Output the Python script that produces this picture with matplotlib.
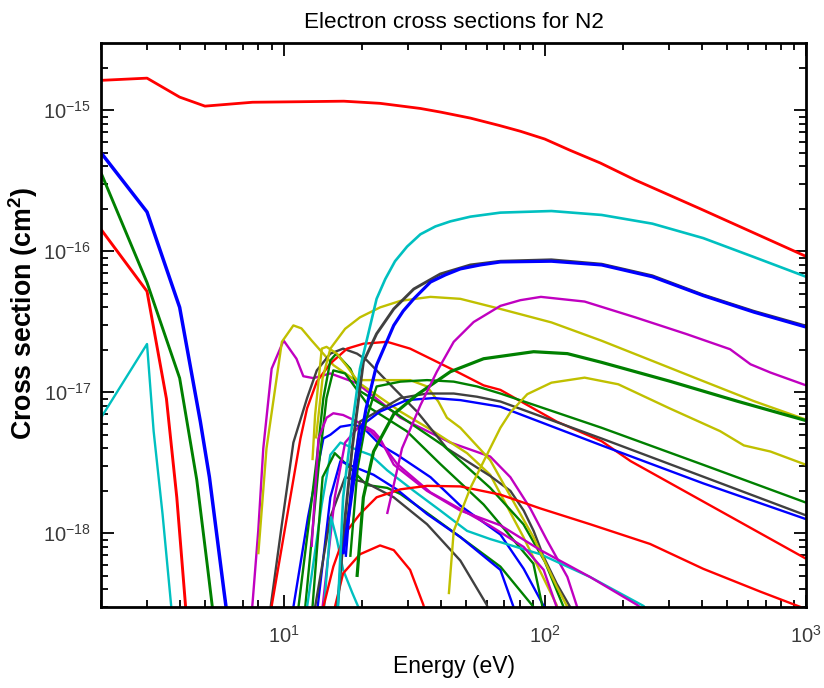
import matplotlib
matplotlib.use("Agg")
import matplotlib.pyplot as plt
from matplotlib.ticker import FixedLocator, NullFormatter

plt.rcParams['font.family'] = ['Liberation Sans', 'DejaVu Sans']
plt.rcParams['mathtext.fontset'] = 'custom'
plt.rcParams['mathtext.rm'] = 'Liberation Sans'
plt.rcParams['mathtext.bf'] = 'Liberation Sans:bold'

RED, BLUE, GREEN = '#ff0000', '#0000ff', '#008000'
CYAN, MAGENTA, YELLOW, GRAY = '#00c0c0', '#c000c0', '#c0c000', '#404040'

# Energies in eV, cross sections in cm^2
elastic_e = [2, 3, 4, 5, 7.6, 11.6, 17, 23.4, 33.4, 40, 51.9, 67, 80.6, 100, 125, 163,
             222, 394, 1000]
elastic_s = [1.63e-15, 1.69e-15, 1.24e-15, 1.07e-15, 1.14e-15, 1.15e-15, 1.16e-15,
             1.12e-15, 1.03e-15, 9.7e-16, 8.8e-16, 7.8e-16, 7.1e-16, 6.25e-16, 5.2e-16,
             4.23e-16, 3.2e-16, 2.0e-16, 9.2e-17]

vib1_e = [2, 3, 4, 4.8, 5.2, 5.9, 6.1]
vib1_s = [5e-16, 1.9e-16, 4e-17, 6.2e-18, 2.5e-18, 4e-19, 2.5e-19]
vib2_e = [2, 3, 4, 4.65, 5.1, 5.4]
vib2_s = [3.6e-16, 6e-17, 1.26e-17, 2.4e-18, 6e-19, 2.5e-19]
vib3_e = [2, 3, 3.56, 3.9, 4.25]
vib3_s = [1.43e-16, 5.2e-17, 9e-18, 1.8e-18, 2.5e-19]
vib4_e = [2, 3, 3.18, 3.44, 3.75]
vib4_s = [6.6e-18, 2.2e-17, 5.3e-18, 1.37e-18, 2.5e-19]

exc_m1_e = [7.55, 8.0, 8.36, 9.0, 10.0, 11.2, 11.9, 13.0, 15.1, 16.9, 19.1, 28, 43.5,
            61.8, 73.8, 88, 102, 122, 133, 136]
exc_m1_s = [2.7e-19, 1.05e-18, 4e-18, 1.47e-17, 2.33e-17, 1.73e-17, 1.3e-17, 1.26e-17,
            1.36e-17, 1.26e-17, 1.16e-17, 6.6e-18, 4.4e-18, 3.5e-18, 2.5e-18, 1.5e-18,
            8.9e-19, 4.9e-19, 3.0e-19, 2.6e-19]

exc_y1_e = [8.0, 8.6, 9.85, 10.9, 11.7, 12.8, 13.8, 15.5, 28, 37.4, 50.4, 61.8, 82.8, 111, 114]
exc_y1_s = [7.1e-19, 4e-18, 2.28e-17, 2.98e-17, 2.84e-17, 2.33e-17, 1.99e-17, 1.56e-17,
            7.3e-18, 5.3e-18, 3.7e-18, 2.6e-18, 9.4e-19, 3.1e-19, 2.6e-19]

exc_y2_e = [12.9, 13.2, 14.0, 14.6, 16.0, 17.5, 19.1, 30.5, 35.4, 39.1, 42.2, 47.5, 61.8,
            90.4, 111, 122, 125]
exc_y2_s = [3.3e-18, 6.9e-18, 2.04e-17, 2.1e-17, 1.88e-17, 1.52e-17, 1.22e-17, 1.22e-17,
            1.1e-17, 8.6e-18, 6.6e-18, 5.6e-18, 3.3e-18, 9.4e-19, 4.2e-19, 3e-19, 2.6e-19]

exc_g1_e = [8.85, 9.85, 10.9, 12.3, 13.4, 15.1, 16.9, 19.1, 20.8, 26.4, 32.4, 42.2, 61.8,
            73.8, 83, 90.6, 99, 111, 125, 128]
exc_g1_s = [2.7e-19, 1.16e-18, 4.4e-18, 9.1e-18, 1.43e-17, 1.88e-17, 2.04e-17, 1.88e-17,
            1.69e-17, 1.07e-17, 7.3e-18, 4e-18, 2.55e-18, 2e-18, 1.45e-18, 1.04e-18,
            6.8e-19, 4.4e-19, 3e-19, 2.6e-19]

exc_r2_e = [8.9, 11.6, 12.3, 13.4, 15.1, 17.5, 20.2, 24.9, 30.5, 37.5, 47.5, 58.3, 67.6,
            111, 165, 213, 404, 1000]
exc_r2_s = [2.7e-19, 4.7e-18, 7.7e-18, 1.19e-17, 1.6e-17, 2.04e-17, 2.21e-17, 2.28e-17,
            2.04e-17, 1.69e-17, 1.36e-17, 1.12e-17, 1.04e-17, 6.2e-18, 4.5e-18, 3.25e-18,
            1.68e-18, 6.6e-19]

ion_total_e = [16.1, 16.9, 18.0, 19.6, 22.7, 24.5, 26.7, 29.7, 33.4, 38.1, 43.5, 51.9,
               67.6, 106, 165, 258, 404, 632, 1000]
ion_total_s = [2.7e-19, 1.8e-18, 4.7e-18, 1.47e-17, 4.6e-17, 6.35e-17, 8.5e-17, 1.08e-16,
               1.32e-16, 1.5e-16, 1.63e-16, 1.76e-16, 1.88e-16, 1.93e-16, 1.81e-16,
               1.57e-16, 1.24e-16, 9.1e-17, 6.6e-17]

ion_b_e = [16.9, 19.1, 20.7, 22.7, 26.4, 28.7, 31.5, 36.5, 41.6, 47.5, 56.6, 67.6, 106,
           165, 258, 404, 632, 1000]
ion_b_s = [7.1e-19, 3.4e-18, 7.7e-18, 1.56e-17, 2.98e-17, 3.77e-17, 4.6e-17, 6.05e-17,
           6.8e-17, 7.5e-17, 8e-17, 8.4e-17, 8.5e-17, 8e-17, 6.6e-17, 4.85e-17, 3.7e-17,
           2.9e-17]

ion_k_e = [16.0, 17.2, 18.3, 20.2, 22.7, 26.4, 31.5, 39.8, 51.9, 67.6, 106, 165, 258,
           404, 632, 1000]
ion_k_s = [2.7e-19, 1.3e-18, 4e-18, 1.64e-17, 2.6e-17, 3.9e-17, 5.4e-17, 6.9e-17, 8e-17,
           8.5e-17, 8.7e-17, 8.1e-17, 6.7e-17, 4.9e-17, 3.75e-17, 2.95e-17]

ion_m_e = [24.9, 28.4, 33.4, 38.6, 44.8, 53.4, 67.6, 80.6, 96.6, 142, 222, 348, 512, 613,
           731, 1000]
ion_m_s = [1.37e-18, 4e-18, 8.1e-18, 1.4e-17, 2.28e-17, 3.15e-17, 4.1e-17, 4.5e-17,
           4.75e-17, 4.4e-17, 3.4e-17, 2.59e-17, 2.02e-17, 1.58e-17, 1.38e-17, 1.12e-17]

ion_y_e = [13.3, 14.1, 15.1, 17.2, 19.6, 23.4, 28, 36.5, 47.5, 67.6, 106, 165, 258, 404,
           632, 1000]
ion_y_s = [4.7e-18, 1.26e-17, 2.04e-17, 2.82e-17, 3.4e-17, 4.0e-17, 4.45e-17, 4.75e-17,
           4.6e-17, 3.9e-17, 3.13e-17, 2.32e-17, 1.67e-17, 1.2e-17, 8.65e-18, 6.4e-18]

ion_g_e = [19.1, 20.2, 22.1, 26.4, 32.4, 43.5, 58.3, 90.6, 122, 165, 300, 545, 1000]
ion_g_s = [4.9e-19, 1.8e-18, 3.8e-18, 7e-18, 9.6e-18, 1.4e-17, 1.73e-17, 1.94e-17,
           1.88e-17, 1.63e-17, 1.2e-17, 8.65e-18, 6.3e-18]

diss_g_e = [18.0, 19.2, 20.8, 22.7, 28, 35.4, 44.8, 55, 67.6, 165, 404, 1000]
diss_g_s = [6.8e-19, 2.9e-18, 6.6e-18, 1.1e-17, 1.19e-17, 1.22e-17, 1.19e-17, 1.1e-17,
            9.8e-18, 5.6e-18, 3.06e-18, 1.65e-18]

diss_k_e = [17.2, 19.6, 28, 35.4, 44.8, 55, 67.6, 165, 404, 1000]
diss_k_s = [9.4e-19, 6.2e-18, 9.1e-18, 9.8e-18, 9.8e-18, 9.3e-18, 8.6e-18, 4.7e-18,
            2.52e-18, 1.34e-18]

diss_b_e = [17.3, 18.3, 19.6, 23.4, 29.6, 37.5, 47.5, 67.6, 165, 404, 1000]
diss_b_s = [6.8e-19, 2.5e-18, 5.7e-18, 7.3e-18, 8.8e-18, 9.1e-18, 8.8e-18, 7.9e-18,
            4.2e-18, 2.26e-18, 1.26e-18]

ion_y3_e = [42.9, 44.8, 51.9, 60, 67.6, 73.8, 85.7, 106, 142, 191, 300, 469, 578, 731, 1000]
ion_y3_s = [3.7e-19, 1.04e-18, 2.1e-18, 3.6e-18, 5.6e-18, 7.2e-18, 9.7e-18, 1.17e-17,
            1.27e-17, 1.14e-17, 7.7e-18, 5.3e-18, 4.2e-18, 3.8e-18, 3.06e-18]

exc_r3_e = [15.5, 16.9, 19.6, 23.4, 26.4, 30.5, 34.3, 34.8]
exc_r3_s = [2.7e-19, 5.2e-19, 7.1e-19, 8.2e-19, 7.6e-19, 5.5e-19, 3.1e-19, 2.7e-19]

exc_r4_e = [14.2, 15.5, 17.2, 19.6, 22.7, 28, 35.4, 47.5, 67.6, 96.2, 149, 253, 404, 670, 1000]
exc_r4_s = [3e-19, 5.8e-19, 1.0e-18, 1.37e-18, 1.8e-18, 2.05e-18, 2.17e-18, 2.15e-18,
            1.88e-18, 1.5e-18, 1.16e-18, 8.4e-19, 5.6e-19, 3.85e-19, 2.9e-19]

exc_m2_e = [12.8, 13.6, 14.6, 15.5, 16.9, 19.1, 22.1, 23.4, 26.4, 35.4, 47.5, 67.6, 96.2,
            149, 226, 247]
exc_m2_s = [8e-19, 4.7e-18, 6.6e-18, 7.1e-18, 6.9e-18, 6.2e-18, 5.3e-18, 4.7e-18, 3.07e-18,
            2.0e-18, 1.45e-18, 1.14e-18, 7.6e-19, 4.9e-19, 3.1e-19, 2.7e-19]

exc_c2_e = [12.3, 14.0, 15.1, 16.5, 19.1, 21.5, 24.9, 31.5, 39.8, 50.4, 61.8, 96.2, 149, 239, 250]
exc_c2_s = [3e-19, 1.6e-18, 3.6e-18, 4.4e-18, 3.9e-18, 3.6e-18, 2.8e-18, 2.0e-18, 1.45e-18,
            1.04e-18, 9.1e-19, 7.1e-19, 4.9e-19, 3.05e-19, 2.7e-19]

exc_b3_e = [10.9, 12.4, 14.2, 15.1, 16.5, 18.5, 20.2, 23.4, 27.2, 32.4, 36.5, 47.5, 67.6,
            83, 99.5, 101]
exc_b3_s = [3e-19, 1.3e-18, 4.7e-18, 5e-18, 5.7e-18, 5.9e-18, 5.6e-18, 4.25e-18, 3.6e-18,
            2.9e-18, 2.5e-18, 1.57e-18, 9.8e-19, 5.6e-19, 3e-19, 2.6e-19]

exc_b4_e = [13.5, 15.1, 16.5, 19.1, 22.1, 27.2, 35.4, 47.5, 67.6, 75.9]
exc_b4_s = [3e-19, 1.8e-18, 3.25e-18, 2.9e-18, 2.6e-18, 2.04e-18, 1.37e-18, 9.4e-19,
            5.5e-19, 3e-19]

exc_k2_e = [13.2, 15.1, 17.2, 20.6, 26.4, 35.4, 47.5, 60, 61]
exc_k2_s = [3e-19, 1.3e-18, 2.5e-18, 2.29e-18, 1.8e-18, 1.16e-18, 6.4e-19, 3.1e-19, 2.7e-19]

exc_g3_e = [12.9, 14.1, 15.7, 18, 20.8, 24.9, 28, 36.5, 47.5, 67.6, 90.6]
exc_g3_s = [3e-19, 2.5e-18, 3.7e-18, 2.9e-18, 2.2e-18, 2.1e-18, 1.9e-18, 1.34e-18,
            9.4e-19, 5.8e-19, 3e-19]

exc_g4_e = [11.4, 13.4, 14.2, 15.1, 15.9, 18, 19.6, 26.3, 40.8, 61.8, 82.8, 100, 118]
exc_g4_s = [3e-19, 3.4e-18, 9.1e-18, 1.68e-17, 1.88e-17, 1.47e-17, 1.02e-17, 7.3e-18,
            4.2e-18, 2.1e-18, 1.16e-18, 6.3e-19, 3e-19]

exc_g5_e = [12.1, 13.6, 14.6, 15.5, 17.2, 21.5, 29.6, 39.8, 58.3, 90.4, 98]
exc_g5_s = [3e-19, 2.9e-18, 9.1e-18, 1.43e-17, 1.36e-17, 7.7e-18, 5.3e-18, 3.1e-18,
            1.6e-18, 6.1e-19, 3e-19]

exc_m3_e = [14.1, 15.7, 17.2, 19.4, 21.5, 23.4, 27.2, 36.5, 61.8, 83, 99, 111]
exc_m3_s = [3e-19, 1.8e-18, 4.4e-18, 5.7e-18, 5.3e-18, 4.5e-18, 3.1e-18, 1.95e-18,
            1.13e-18, 8e-19, 5.5e-19, 3e-19]

exc_c3_e = [14.3, 15.2, 16.0, 16.9, 18.3, 19.8]
exc_c3_s = [3e-19, 1.3e-18, 9e-19, 5.5e-19, 3.8e-19, 2.7e-19]

LW = 1.7
curves = [
    (vib4_e, vib4_s, CYAN, LW),
    (vib3_e, vib3_s, RED, 2.1),
    (vib2_e, vib2_s, GREEN, 2.1),
    (vib1_e, vib1_s, BLUE, 2.5),
    (exc_m1_e, exc_m1_s, MAGENTA, LW),
    (exc_y1_e, exc_y1_s, YELLOW, LW),
    (exc_g1_e, exc_g1_s, GRAY, LW),
    (exc_r2_e, exc_r2_s, RED, LW),
    (exc_b3_e, exc_b3_s, BLUE, LW),
    (exc_g4_e, exc_g4_s, GREEN, LW),
    (exc_g5_e, exc_g5_s, GREEN, LW),
    (exc_c2_e, exc_c2_s, CYAN, LW),
    (exc_y2_e, exc_y2_s, YELLOW, LW),
    (exc_g3_e, exc_g3_s, GREEN, LW),
    (exc_m2_e, exc_m2_s, MAGENTA, LW),
    (exc_b4_e, exc_b4_s, BLUE, LW),
    (exc_k2_e, exc_k2_s, GRAY, LW),
    (exc_m3_e, exc_m3_s, MAGENTA, LW),
    (exc_c3_e, exc_c3_s, CYAN, LW),
    (exc_r4_e, exc_r4_s, RED, LW),
    (exc_r3_e, exc_r3_s, RED, LW),
    (diss_k_e, diss_k_s, GRAY, LW),
    (diss_b_e, diss_b_s, BLUE, LW),
    (diss_g_e, diss_g_s, GREEN, LW),
    (ion_y_e, ion_y_s, YELLOW, LW),
    (ion_y3_e, ion_y3_s, YELLOW, LW),
    (ion_g_e, ion_g_s, GREEN, 2.3),
    (ion_m_e, ion_m_s, MAGENTA, LW),
    (ion_k_e, ion_k_s, GRAY, 2.1),
    (ion_b_e, ion_b_s, BLUE, 2.3),
    (ion_total_e, ion_total_s, CYAN, 1.9),
    (elastic_e, elastic_s, RED, 2.0),
]

fig = plt.figure(figsize=(8.24, 6.88), dpi=100)
ax = fig.add_axes([0.1226, 0.1177, 0.8556, 0.8198])

for e, s, c, lw in curves:
    ax.plot(e, s, color=c, lw=lw, solid_joinstyle='round', solid_capstyle='butt')

ax.set_xscale('log')
ax.set_yscale('log')
ax.set_xlim(2, 1000)
ax.set_ylim(3e-19, 3e-15)

x_major = [10, 100, 1000]
x_minor = [m * 10.0 ** d for d in range(0, 3) for m in range(2, 10) if m * 10.0 ** d >= 2]
y_major = [1e-18, 1e-17, 1e-16, 1e-15]
y_minor = [m * 10.0 ** d for d in range(-19, -14) for m in range(2, 10)
           if 3e-19 <= m * 10.0 ** d <= 3e-15]
ax.xaxis.set_major_locator(FixedLocator(x_major))
ax.xaxis.set_minor_locator(FixedLocator(x_minor))
ax.xaxis.set_minor_formatter(NullFormatter())
ax.yaxis.set_major_locator(FixedLocator(y_major))
ax.yaxis.set_minor_locator(FixedLocator(y_minor))
ax.yaxis.set_minor_formatter(NullFormatter())
ax.set_xticklabels([r'$\mathdefault{10^{1}}$', r'$\mathdefault{10^{2}}$', r'$\mathdefault{10^{3}}$'])
ax.set_yticklabels([r'$\mathdefault{10^{-18}}$', r'$\mathdefault{10^{-17}}$',
                    r'$\mathdefault{10^{-16}}$', r'$\mathdefault{10^{-15}}$'])

ax.tick_params(which='both', direction='in', top=True, right=True, width=1.3,
               labelsize=14.5, labelcolor='#3a3a3a')
ax.tick_params(which='major', length=9)
ax.tick_params(axis='x', which='major', pad=13)
ax.tick_params(axis='y', which='major', pad=7)
ax.tick_params(which='minor', length=5)
for sp in ax.spines.values():
    sp.set_linewidth(2.0)

ax.set_title('Electron cross sections for N2', fontsize=16.2, pad=11)
ax.set_xlabel('Energy (eV)', fontsize=16.5, labelpad=6)
ax.set_ylabel(r'Cross section (cm$^\mathbf{2}$)', fontsize=19.3, fontweight='bold')
ax.yaxis.set_label_coords(-0.086, 0.52)

fig.savefig('out.png', dpi=100)
